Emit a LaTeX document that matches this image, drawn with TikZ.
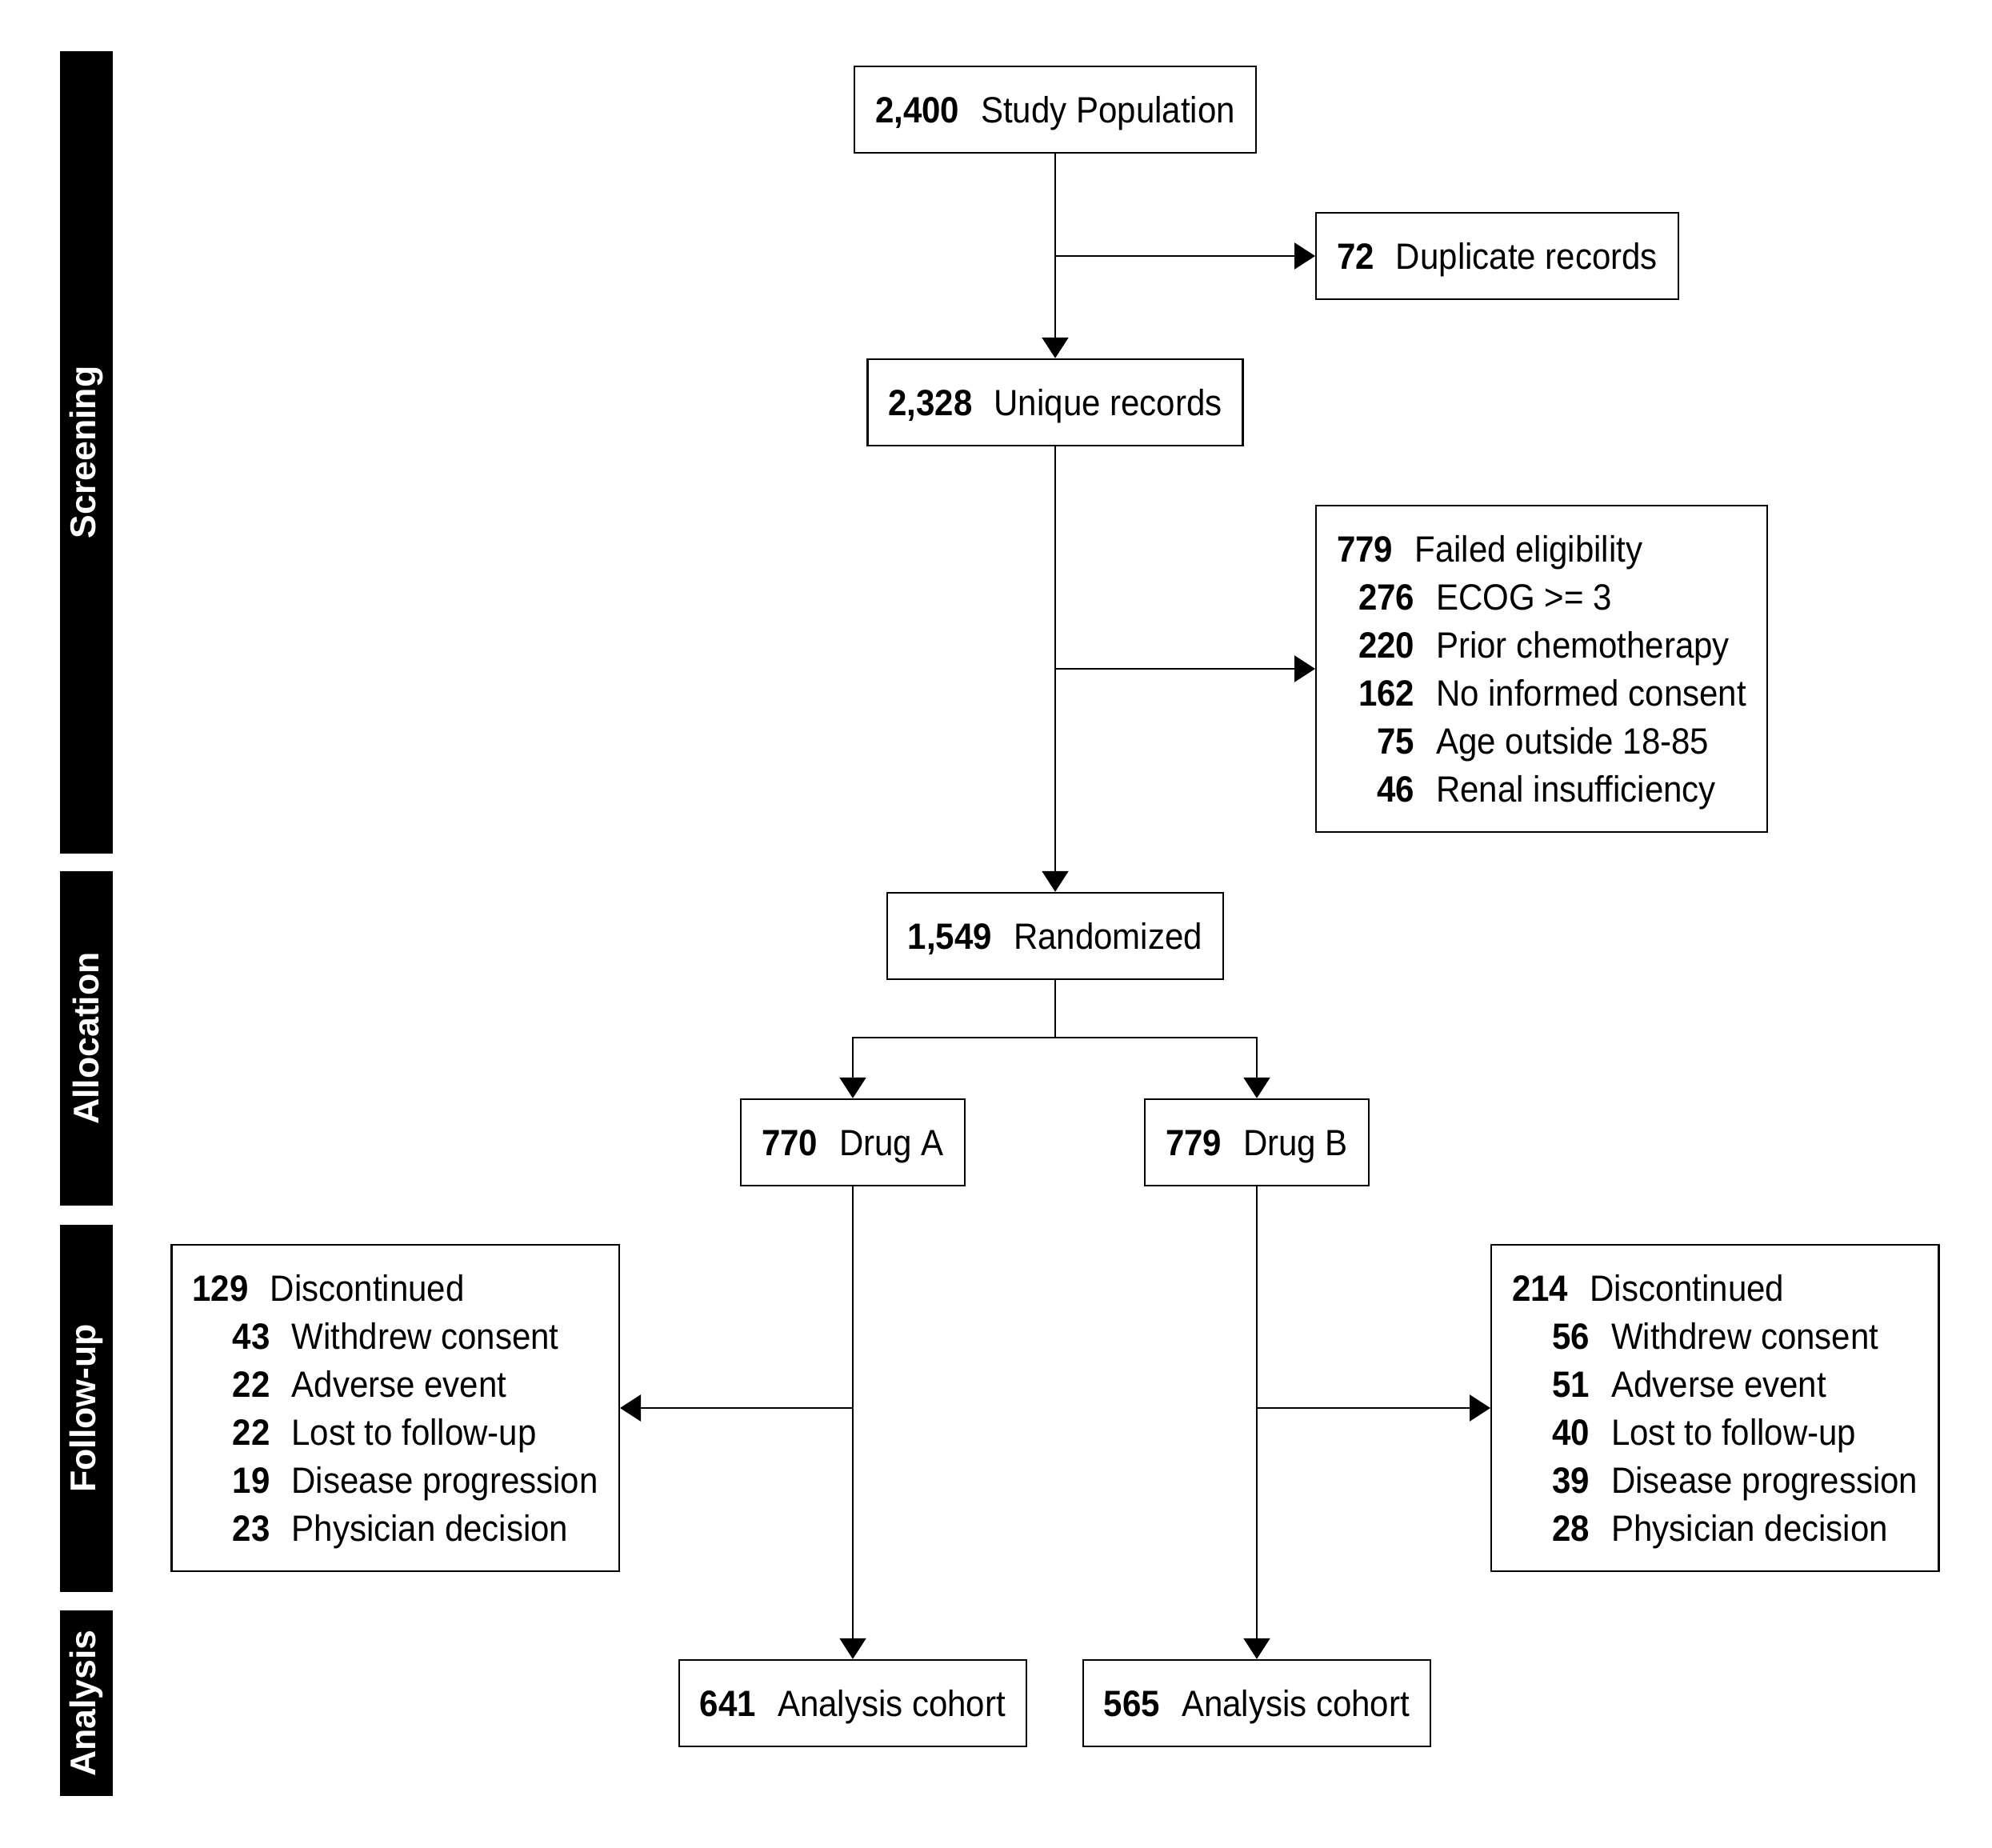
\documentclass[tikz,border=0pt]{standalone}
\usepackage{fontspec}
\setmainfont{Liberation Sans}[FakeStretch=0.92]
\newfontfamily\stagefont{Liberation Sans}
\usetikzlibrary{arrows.meta, positioning, calc}

\newcommand{\cnt}[2]{\textbf{#1}\hspace{0.27cm}#2}
\newcommand{\firstcnt}[2]{\rule{0pt}{0.93em}\textbf{#1}\hspace{0.27cm}#2}
\newcommand{\subcnt}[2]{\makebox[0.97cm][r]{\textbf{#1}}\hspace{0.27cm}#2}

\begin{document}
\begin{tikzpicture}[
    box/.style={draw, line width=0.7pt, inner xsep=0.26cm, minimum height=1.08cm, text height=9.3pt, text depth=0pt, font=\fontsize{13}{15}\selectfont},
    listbox/.style={draw, line width=0.7pt, inner xsep=0.26cm, align=left, minimum height=4.08cm, font=\fontsize{13}{17.07}\selectfont},
    stage/.style={fill=black, text=white, rotate=90, minimum height=0.66cm, inner sep=0pt, font=\stagefont\fontsize{12.7}{15}\selectfont\bfseries},
    arr/.style={line width=0.7pt, -{Triangle[length=0.26cm,width=0.33cm]}},
    conn/.style={line width=0.7pt}
  ]
  \useasboundingbox (0,0) rectangle (24.9,-23.1);

  % stage bars
  \node[stage, minimum width=10.03cm] (scr) at (1.08,-5.655) {Screening};
  \node[stage, minimum width=4.18cm] (alloc) at (1.08,-12.98) {Allocation};
  \node[stage, minimum width=4.59cm] (fup) at (1.08,-17.605) {Follow-up};
  \node[stage, minimum width=2.32cm] (anl) at (1.08,-21.29) {Analysis};

  % screening
  \node[box] (pop) at (13.19,-1.37) {\cnt{2,400}{Study Population}};
  \node[box, anchor=west] (dup) at (16.44,-3.20) {\cnt{72}{Duplicate records}};
  \node[box] (unique) at (13.19,-5.03) {\cnt{2,328}{Unique records}};
  \node[listbox, anchor=west] (fail) at (16.44,-8.36) {\firstcnt{779}{Failed eligibility}\\
    \subcnt{276}{ECOG >= 3}\\
    \subcnt{220}{Prior chemotherapy}\\
    \subcnt{162}{No informed consent}\\
    \subcnt{75}{Age outside 18-85}\\
    \subcnt{46}{Renal insufficiency}};

  % allocation
  \node[box] (rand) at (13.19,-11.70) {\cnt{1,549}{Randomized}};
  \node[box] (drugA) at (10.66,-14.28) {\cnt{770}{Drug A}};
  \node[box] (drugB) at (15.71,-14.28) {\cnt{779}{Drug B}};

  % follow-up
  \node[listbox, anchor=east] (discA) at (7.75,-17.60) {\firstcnt{129}{Discontinued}\\
    \subcnt{43}{Withdrew consent}\\
    \subcnt{22}{Adverse event}\\
    \subcnt{22}{Lost to follow-up}\\
    \subcnt{19}{Disease progression}\\
    \subcnt{23}{Physician decision}};
  \node[listbox, anchor=west] (discB) at (18.63,-17.60) {\firstcnt{214}{Discontinued}\\
    \subcnt{56}{Withdrew consent}\\
    \subcnt{51}{Adverse event}\\
    \subcnt{40}{Lost to follow-up}\\
    \subcnt{39}{Disease progression}\\
    \subcnt{28}{Physician decision}};

  % analysis
  \node[box] (anaA) at (10.66,-21.29) {\cnt{641}{Analysis cohort}};
  \node[box] (anaB) at (15.71,-21.29) {\cnt{565}{Analysis cohort}};

  % connectors
  \draw[arr] (pop) -- (unique);
  \coordinate (j1) at (pop.south |- dup.west);
  \draw[arr] (j1) -- (dup.west);
  \draw[arr] (unique) -- (rand);
  \coordinate (j2) at (unique.south |- fail.west);
  \draw[arr] (j2) -- (fail.west);
  \coordinate (split) at (13.19,-12.97);
  \draw[conn] (rand) -- (split);
  \draw[arr] (split) -| (drugA);
  \draw[arr] (split) -| (drugB);
  \draw[arr] (drugA) -- (anaA);
  \draw[arr] (drugB) -- (anaB);
  \coordinate (j3) at (drugA.south |- discA.east);
  \draw[arr] (j3) -- (discA.east);
  \coordinate (j4) at (drugB.south |- discB.west);
  \draw[arr] (j4) -- (discB.west);
\end{tikzpicture}
\end{document}
